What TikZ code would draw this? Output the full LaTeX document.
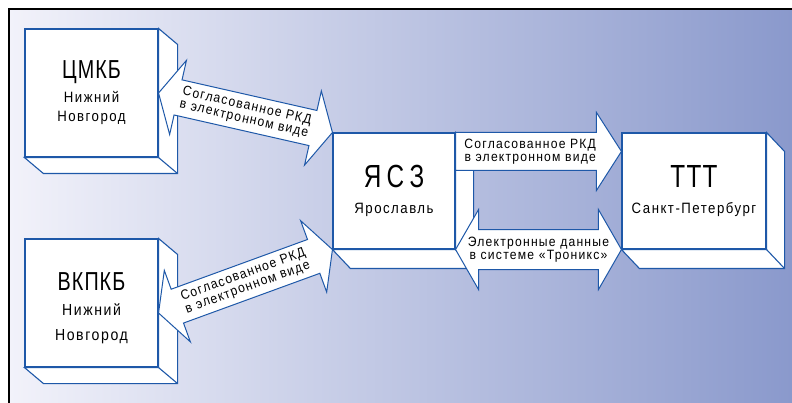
\documentclass[tikz,border=0pt]{standalone}
\usepackage{fontspec}
\setmainfont[FakeStretch=0.82]{Liberation Sans}
\newfontfamily\titlefont[FakeStretch=0.76,LetterSpace=4]{Liberation Sans}
\newfontfamily\subfont[FakeStretch=0.88,LetterSpace=10]{Liberation Sans}
\newfontfamily\arrowfont[FakeStretch=0.9,LetterSpace=9]{Liberation Sans}
\usetikzlibrary{calc,positioning}

\definecolor{edgeblue}{RGB}{30,88,168}
\definecolor{bgleft}{RGB}{242,242,250}
\definecolor{bgright}{RGB}{138,153,204}

\newcommand{\bigname}{\titlefont\fontsize{26}{24}\selectfont}
\newcommand{\hugename}{\titlefont\fontsize{32}{30}\selectfont}
\newcommand{\cityname}{\subfont\fontsize{15}{19}\selectfont}
\newcommand{\citynamewide}{\subfont\fontsize{16}{25}\selectfont}

% side and bottom faces behind a box
\newcommand{\extrude}[3]{%
  \draw[boxline] (#1.north east) -- ++(#2,#3) -- ($(#1.south east)+(#2,#3)$)
    -- ($(#1.south west)+(#2,#3)$) -- (#1.south west) -- (#1.south east) -- cycle;
  \draw[boxline] (#1.south east) -- ++(#2,#3);
}
% block arrow with two heads: from, to, body half width, head half width, head length
\newcommand{\twoway}[5]{%
  \draw[blockarrow] (#1)
    -- ($(#1)!#5!(#2)!#4!90:(#2)$) -- ($(#1)!#5!(#2)!#3!90:(#2)$)
    -- ($(#2)!#5!(#1)!#3!-90:(#1)$) -- ($(#2)!#5!(#1)!#4!-90:(#1)$)
    -- (#2)
    -- ($(#2)!#5!(#1)!#4!90:(#1)$) -- ($(#2)!#5!(#1)!#3!90:(#1)$)
    -- ($(#1)!#5!(#2)!#3!-90:(#2)$) -- ($(#1)!#5!(#2)!#4!-90:(#2)$)
    -- cycle;
}
% block arrow with one head
\newcommand{\oneway}[5]{%
  \draw[blockarrow] ($(#1)!#3!90:(#2)$)
    -- ($(#2)!#5!(#1)!#3!-90:(#1)$) -- ($(#2)!#5!(#1)!#4!-90:(#1)$)
    -- (#2)
    -- ($(#2)!#5!(#1)!#4!90:(#1)$) -- ($(#2)!#5!(#1)!#3!90:(#1)$)
    -- ($(#1)!#3!-90:(#2)$) -- cycle;
}

\begin{document}
\begin{tikzpicture}[x=1pt,y=-1pt,
    box/.style={draw=edgeblue,fill=white,line width=1.1pt,inner sep=0pt,align=center,
      font=\fontsize{15}{19}\selectfont},
    boxline/.style={draw=edgeblue,fill=white,line width=1.1pt,line join=miter},
    blockarrow/.style={draw=edgeblue,fill=white,line width=1pt,line join=miter},
    arrowtext/.style={font=\arrowfont\fontsize{13.5}{13.3}\selectfont,align=center,inner sep=0pt}]

 \useasboundingbox (0,0) rectangle (792,403);
 \shade[left color=bgleft,right color=bgright] (9,9) rectangle (792,403);
 \draw[line width=2.4pt] (9,403) -- (9,9) -- (792,9);

 \node[box,minimum width=133pt,minimum height=128pt] (cmkb) at (91.5,93)
   {\bigname ЦМКБ\\[5pt] \cityname Нижний\\ \cityname Новгород};
 \node[box,minimum width=133pt,minimum height=128pt,font=\fontsize{16}{25}\selectfont] (vkpkb) at (91.5,303)
   {\bigname\rule{0pt}{28pt}ВКПКБ\\ \citynamewide Нижний\\ \citynamewide Новгород};
 \node[box,minimum width=122pt,minimum height=116pt] (yasz) at (394,191)
   {\hugename Я\,С\,З\\[7pt] \cityname Ярославль};
 \node[box,minimum width=144pt,minimum height=116pt] (ttt) at (694,191)
   {\hugename ТТТ\\[7pt] \cityname Санкт-Петербург};

 \extrude{cmkb}{19}{16}
 \extrude{vkpkb}{19}{16}
 \extrude{yasz}{18}{19}
 \extrude{ttt}{18}{19}

 \coordinate (vkpkb out) at ($(vkpkb.east)+(0,10)$);
 \coordinate (yasz out) at ($(yasz.north east)+(0,19)$);
 \coordinate (ttt in) at ($(ttt.north west)+(0,19)$);

 \twoway{cmkb.east}{yasz.north west}{18pt}{38pt}{20pt}
 \twoway{vkpkb out}{yasz.south west}{18pt}{38pt}{20pt}
 \oneway{yasz out}{ttt in}{19pt}{39pt}{25pt}
 \twoway{yasz.south east}{ttt.south west}{20pt}{40pt}{23pt}

 \path (cmkb.east) -- (yasz.north west)
   node[arrowtext,midway,sloped] (text1) {Согласованное РКД\\в электронном виде};
 \path (vkpkb out) -- (yasz.south west)
   node[arrowtext,midway,sloped] (text2) {Согласованное РКД\\в электронном виде};
 \path (yasz out) -- (ttt in)
   node[arrowtext,pos=0.45] (text3) {Согласованное РКД\\в электронном виде};
 \path (yasz.south east) -- (ttt.south west)
   node[arrowtext,midway] (text4) {Электронные данные\\в системе «Троникс»};

\end{tikzpicture}
\end{document}
